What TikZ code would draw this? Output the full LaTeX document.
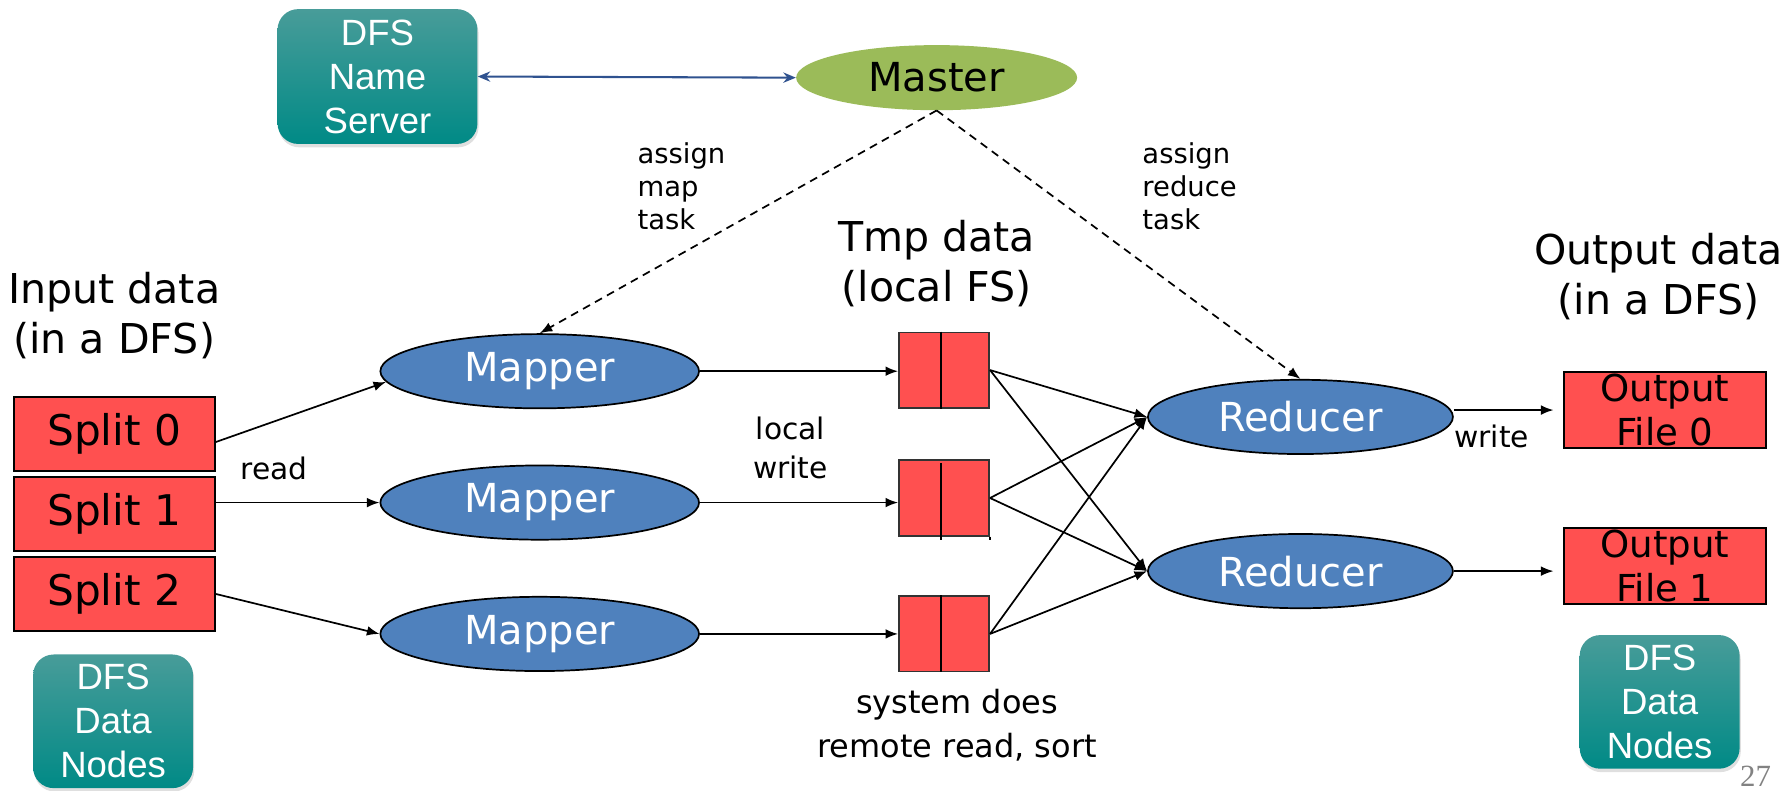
\documentclass[tikz,border=0pt]{standalone}
\usepackage{fontspec}
\setmainfont{DejaVu Sans}
\newfontfamily\boxfont{Liberation Sans}
\newfontfamily\pagefont{Liberation Serif}
\usetikzlibrary{shapes.geometric,arrows.meta,calc,shadows}

\definecolor{splitred}{RGB}{255,80,80}
\definecolor{jobblue}{RGB}{79,129,189}
\definecolor{mastergreen}{RGB}{155,187,89}
\definecolor{tealtop}{RGB}{72,156,153}
\definecolor{tealbot}{RGB}{0,138,134}
\definecolor{linkblue}{RGB}{47,82,143}
\definecolor{pagegray}{RGB}{130,130,130}

\tikzset{
  wire/.style={line width=1.5pt, -{Latex[length=11pt,width=8.5pt]}},
  dashwire/.style={wire, dash pattern=on 7pt off 5pt},
  linkwire/.style={line width=1.8pt, draw=linkblue,
    {Stealth[length=11pt,width=9pt]}-{Stealth[length=11pt,width=9pt]}},
  redbox/.style={rectangle, draw=black, line width=1.8pt, fill=splitred,
    inner sep=0pt, align=center},
  splitbox/.style={redbox, minimum width=176pt, minimum height=65pt,
    font=\fontsize{37}{44}\selectfont},
  outbox/.style={redbox, minimum width=177pt, minimum height=66pt,
    font=\fontsize{32.5}{38}\selectfont},
  tmpbox/.style={rectangle, draw=black!80, line width=1.5pt, fill=splitred,
    minimum width=79pt, minimum height=66pt, inner sep=0pt},
  jobell/.style={ellipse, draw=black, line width=1.5pt, fill=jobblue,
    text=white, inner sep=0pt, font=\fontsize{35}{42}\selectfont},
  masterell/.style={ellipse, fill=mastergreen, inner sep=0pt,
    minimum width=246pt, minimum height=57pt, font=\fontsize{35}{42}\selectfont},
  dfsbox/.style={rectangle, rounded corners=18pt, top color=tealtop,
    bottom color=tealbot, text=white, align=center, inner sep=0pt,
    font=\boxfont\fontsize{32}{38.5}\selectfont,
    drop shadow={opacity=0.25, shadow xshift=1pt, shadow yshift=-3pt}},
  biglbl/.style={inner sep=0pt, align=center, font=\fontsize{36}{44}\selectfont},
  tasklbl/.style={inner sep=0pt, align=left, anchor=west,
    font=\fontsize{24}{29}\selectfont},
  smalllbl/.style={inner sep=0pt, align=center, font=\fontsize{26}{34}\selectfont},
}

\begin{document}
\begin{tikzpicture}[x=1pt, y=-1pt]
\useasboundingbox (0,0) rectangle (1568,692);

% Name server and master
\node[dfsbox, minimum width=175pt, minimum height=118pt] (ns) at (330.5,67) {DFS\\Name\\Server};
\node[masterell] (master) at (820,68) {Master};

% Input splits
\node[splitbox] (s0) at (100,380) {Split 0};
\node[splitbox] (s1) at (100,450) {Split 1};
\node[splitbox] (s2) at (100,520) {Split 2};

% Data nodes
\node[dfsbox, minimum width=140pt, minimum height=117pt] (dnl) at (99,631.5) {DFS\\Data\\Nodes};
\node[dfsbox, minimum width=140pt, minimum height=117pt] (dnr) at (1453,614.5) {DFS\\Data\\Nodes};

% Mappers
\node[jobell, minimum width=279pt, minimum height=65pt] (m0) at (472.5,325) {Mapper};
\node[jobell, minimum width=279pt, minimum height=65pt] (m1) at (472.5,440) {Mapper};
\node[jobell, minimum width=279pt, minimum height=65pt] (m2) at (472.5,555) {Mapper};

% Intermediate files
\node[tmpbox] (t0) at (826.5,324) {};
\node[tmpbox] (t1) at (826.5,436) {};
\node[tmpbox] (t2) at (826.5,555) {};
\draw[line width=1.5pt] ($(t0.north west)!0.47!(t0.north east)$) -- ($(t0.south west)!0.47!(t0.south east)$);
\draw[line width=1.5pt] ($(t1.north west)!0.47!(t1.north east)+(0,3)$) -- ($(t1.south west)!0.47!(t1.south east)+(0,3)$);
\draw[line width=1.5pt] (t1.south east) -- ++(0,3);
\draw[line width=1.5pt] ($(t2.north west)!0.47!(t2.north east)$) -- ($(t2.south west)!0.47!(t2.south east)$);

% Reducers
\node[jobell, minimum width=267pt, minimum height=65pt] (r0) at (1138.5,365) {Reducer};
\node[jobell, minimum width=267pt, minimum height=65pt] (r1) at (1138.5,500) {Reducer};

% Output files
\node[outbox] (o0) at (1457.5,359) {Output\\File 0};
\node[outbox] (o1) at (1457.5,495.5) {Output\\File 1};

% Labels
\node[biglbl] (inlbl) at (100,276) {Input data\\(in a DFS)};
\node[biglbl] (tmplbl) at (820,231) {Tmp data\\(local FS)};
\node[biglbl] (outlbl) at (1452,242) {Output data\\(in a DFS)};
\node[tasklbl] (amap) at (558,163) {assign\\map\\task};
\node[tasklbl] (ared) at (1000,163) {assign\\reduce\\task};
\node[smalllbl] (readlbl) at (240,410) {read};
\node[smalllbl] (lwlbl) at (692,392) {local\\write};
\node[smalllbl] (wlbl) at (1306,382) {write};
\node[inner sep=0pt, align=center, font=\fontsize{28}{38}\selectfont] (sortlbl) at (838,635) {system does\\remote read, sort};
\node[inner sep=0pt, text=pagegray, font=\pagefont\fontsize{27}{30}\selectfont] (pgnum) at (1537,680) {27};

% Control links
\draw[linkwire] (ns.east) -- (master.west);
\draw[dashwire] (master.south) -- (m0.north);
\draw[dashwire] (master.south) -- (r0.north);

% Reading splits
\draw[wire] ($(s0.east)+(0,7)$) -- (m0.184);
\draw[wire] (s1.east |- m1.west) -- (m1.west);
\draw[wire] (s2.east) -- (m2.west);

% Local writes
\draw[wire] (m0.east) -- (m0.east -| t0.west);
\draw[wire] (m1.east) -- (m1.east -| t1.west);
\draw[wire] (m2.east) -- (m2.east -| t2.west);

% Shuffle to reducers
\foreach \t in {t0,t1,t2} {
  \draw[wire] (\t.east) -- (r0.west);
  \draw[wire] (\t.east) -- (r1.west);
}

% Final writes
\draw[wire, shorten >=8pt] (r0.east |- o0.west) -- (o0.west);
\draw[wire, shorten >=8pt] (r1.east) -- (r1.east -| o1.west);
\end{tikzpicture}
\end{document}
